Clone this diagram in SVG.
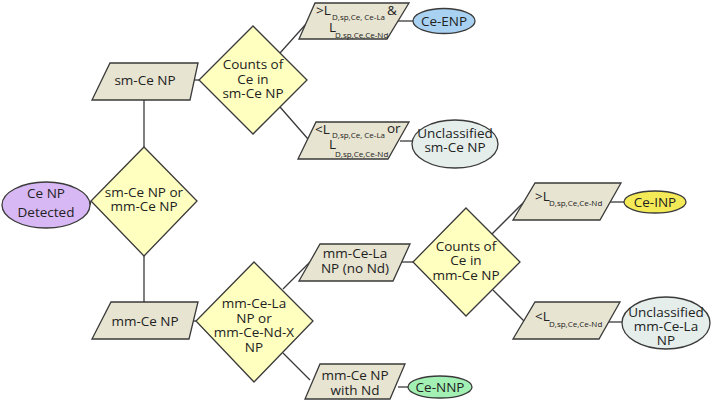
<svg xmlns="http://www.w3.org/2000/svg" width="711" height="404" viewBox="0 0 711 404">
<style>
.dia{fill:#ffffc0;stroke:#3a3a3a;stroke-width:1.3}
.par{fill:#e7e4d1;stroke:#3a3a3a;stroke-width:1.3}
.ell{stroke:#3a3a3a;stroke-width:1.3}
.con{stroke:#3a3a3a;stroke-width:1.3;fill:none}
text{font-family:"Open Sans","Noto Sans","DejaVu Sans",sans-serif;fill:#222;font-size:13.5px}
.c{text-anchor:middle}
.s{font-size:8px}
</style>
<rect width="711" height="404" fill="#fff"/>
<g id="connectors">
<line class="con" x1="90" y1="205" x2="91" y2="201"/>
<line class="con" x1="144" y1="100" x2="144" y2="147"/>
<line class="con" x1="144" y1="256" x2="144" y2="302"/>
<line class="con" x1="194" y1="80" x2="199" y2="80"/>
<line class="con" x1="280" y1="53" x2="306" y2="24"/>
<line class="con" x1="280" y1="107" x2="308" y2="139"/>
<line class="con" x1="398" y1="21" x2="413" y2="21"/>
<line class="con" x1="400" y1="141" x2="412" y2="141"/>
<line class="con" x1="192" y1="321" x2="196" y2="321"/>
<line class="con" x1="283" y1="289" x2="310" y2="262"/>
<line class="con" x1="283" y1="353" x2="310" y2="380"/>
<line class="con" x1="401" y1="262" x2="413" y2="262"/>
<line class="con" x1="398" y1="387" x2="408" y2="387"/>
<line class="con" x1="492" y1="234" x2="524" y2="202"/>
<line class="con" x1="493" y1="290" x2="524" y2="321"/>
<line class="con" x1="610" y1="202" x2="624" y2="202"/>
<line class="con" x1="609" y1="322" x2="622" y2="322"/>
</g>
<g id="ce-np-detected">
<ellipse class="ell" cx="46" cy="205" rx="44" ry="23" fill="#d8b8f4"/>
<text class="c" x="46" y="198">Ce NP</text>
<text class="c" x="46" y="217">Detected</text>
</g>
<g id="sm-or-mm">
<polygon class="dia" points="144,147 197,201 144,256 91,201"/>
<text class="c" x="144" y="197">sm-Ce NP or</text>
<text class="c" x="144" y="211">mm-Ce NP</text>
</g>
<g id="sm-ce-np">
<polygon class="par" points="110,63 198,63 190,100 92,100"/>
<text class="c" x="145" y="85">sm-Ce NP</text>
</g>
<g id="mm-ce-np">
<polygon class="par" points="111,302 198,302 189,339 92,339"/>
<text class="c" x="145" y="326">mm-Ce NP</text>
</g>
<g id="counts-sm">
<polygon class="dia" points="253,26 307,80 253,134 199,80"/>
<text class="c" x="253" y="69">Counts of</text>
<text class="c" x="253" y="84">Ce in</text>
<text class="c" x="253" y="98">sm-Ce NP</text>
</g>
<g id="sm-high">
<polygon class="par" points="315,3 409,3 387,39 299,39"/>
<text x="316" y="15">&gt;L</text>
<text class="s" x="332" y="20">D,sp,Ce, Ce-La</text>
<text x="387" y="15">&amp;</text>
<text x="329" y="32">L</text>
<text class="s" x="335" y="38">D,sp,Ce,Ce-Nd</text>
</g>
<g id="ce-enp">
<ellipse class="ell" cx="444" cy="21" rx="31" ry="12.5" fill="#a9d1f2"/>
<text class="c" x="444" y="26">Ce-ENP</text>
</g>
<g id="sm-low">
<polygon class="par" points="316,122 409,122 388,159 298,159"/>
<text x="315" y="134">&lt;L</text>
<text class="s" x="332" y="138">D,sp,Ce, Ce-La</text>
<text x="387" y="133">or</text>
<text x="329" y="149">L</text>
<text class="s" x="335" y="157">D,sp,Ce,Ce-Nd</text>
</g>
<g id="unclassified-sm">
<ellipse class="ell" cx="455" cy="144" rx="43" ry="24" fill="#e5eeeb"/>
<text class="c" x="455" y="138">Unclassified</text>
<text class="c" x="455" y="152">sm-Ce NP</text>
</g>
<g id="la-or-ndx">
<polygon class="dia" points="254,262 313,321 254,382 196,321"/>
<text class="c" x="254" y="308">mm-Ce-La</text>
<text class="c" x="254" y="323">NP or</text>
<text class="c" x="254" y="337">mm-Ce-Nd-X</text>
<text class="c" x="254" y="352">NP</text>
</g>
<g id="mm-ce-la">
<polygon class="par" points="320,244 410,244 393,281 299,281"/>
<text class="c" x="355" y="258">mm-Ce-La</text>
<text class="c" x="355" y="273">NP (no Nd)</text>
</g>
<g id="mm-ce-nd">
<polygon class="par" points="320,364 405,364 390,399 305,399"/>
<text class="c" x="355" y="380">mm-Ce NP</text>
<text class="c" x="355" y="395">with Nd</text>
</g>
<g id="ce-nnp">
<ellipse class="ell" cx="440" cy="387" rx="32" ry="11" fill="#a3f0b4"/>
<text class="c" x="440" y="392">Ce-NNP</text>
</g>
<g id="counts-mm">
<polygon class="dia" points="466,208 520,262 466,316 413,262"/>
<text class="c" x="466" y="251">Counts of</text>
<text class="c" x="466" y="265">Ce in</text>
<text class="c" x="466" y="280">mm-Ce NP</text>
</g>
<g id="mm-high">
<polygon class="par" points="535,183 621,183 600,220 513,220"/>
<text x="535" y="201">&gt;L</text>
<text class="s" x="549" y="206">D,sp,Ce,Ce-Nd</text>
</g>
<g id="ce-inp">
<ellipse class="ell" cx="655" cy="202" rx="31" ry="11" fill="#f4ea58"/>
<text class="c" x="655" y="207">Ce-INP</text>
</g>
<g id="mm-low">
<polygon class="par" points="535,302 620,302 599,339 513,339"/>
<text x="535" y="321">&lt;L</text>
<text class="s" x="549" y="327">D,sp,Ce,Ce-Nd</text>
</g>
<g id="unclassified-mm">
<ellipse class="ell" cx="666" cy="323" rx="44" ry="26" fill="#e5eeeb"/>
<text class="c" x="666" y="317">Unclassified</text>
<text class="c" x="666" y="331">mm-Ce-La</text>
<text class="c" x="666" y="345">NP</text>
</g>
</svg>
